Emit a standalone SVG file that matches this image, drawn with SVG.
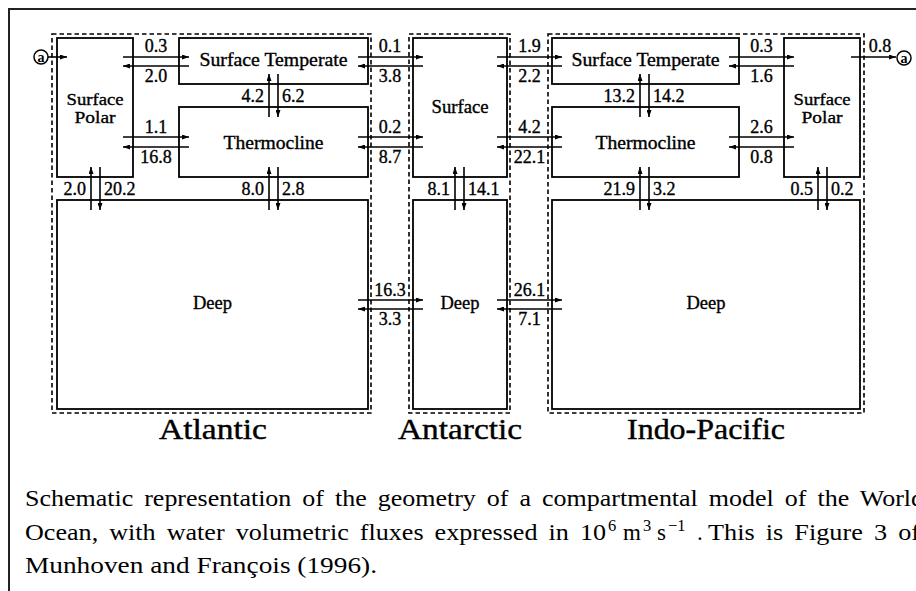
<svg xmlns="http://www.w3.org/2000/svg" width="916" height="591" viewBox="0 0 916 591">
  <defs>
    <marker id="head" viewBox="0 0 7 5" refX="7" refY="2.5" markerWidth="7" markerHeight="5" markerUnits="userSpaceOnUse" orient="auto">
      <path d="M0,0 L7,2.5 L0,5 z" fill="#000"/>
    </marker>
    <style>
      .frame { fill: none; stroke: #222; stroke-width: 2; }
      .basin { fill: none; stroke: #000; stroke-width: 1.6; stroke-dasharray: 4.5 3; }
      .box { fill: #fff; stroke: #000; stroke-width: 1.8; }
      .name { font-family: "Liberation Serif", "Times New Roman", serif; font-size: 18px; fill: #000; stroke: #000; stroke-width: 0.35; text-anchor: middle; }
      .name.small { font-size: 17px; }
      .flow { fill: none; stroke: #000; stroke-width: 1.6; marker-end: url(#head); }
      .num { font-family: "Liberation Serif", "Times New Roman", serif; font-size: 18px; fill: #000; stroke: #000; stroke-width: 0.35; text-anchor: middle; }
      .num.l { text-anchor: end; }
      .num.r { text-anchor: start; }
      .region { font-family: "Liberation Serif", "Times New Roman", serif; font-size: 30px; fill: #000; stroke: #000; stroke-width: 0.4; text-anchor: middle; }
      .tag { fill: #fff; stroke: #000; stroke-width: 1.5; }
      .tagtext { font-family: "Liberation Serif", serif; font-size: 14px; font-weight: bold; fill: #000; text-anchor: middle; }
      .caption { font-family: "Liberation Serif", "Times New Roman", serif; font-size: 23px; fill: #000; word-spacing: 4px; }
      .sup { font-size: 16.5px; }
    </style>
  </defs>

  <!-- outer frame (open to the right and bottom) -->
  <path class="frame" d="M9,591 V9 H916"/>

  <!-- basin outlines -->
  <g id="atlantic">
    <rect class="basin" x="52" y="34" width="319" height="379"/>
    <text class="region" x="213" y="439" textLength="108" lengthAdjust="spacingAndGlyphs">Atlantic</text>
  </g>
  <g id="antarctic">
    <rect class="basin" x="409" y="34" width="101" height="379"/>
    <text class="region" x="460" y="439" textLength="124" lengthAdjust="spacingAndGlyphs">Antarctic</text>
  </g>
  <g id="indo-pacific">
    <rect class="basin" x="548" y="34" width="316" height="379"/>
    <text class="region" x="706" y="439" textLength="158" lengthAdjust="spacingAndGlyphs">Indo-Pacific</text>
  </g>

  <!-- Atlantic reservoirs -->
  <g id="atl-surface-polar">
    <rect class="box" x="57" y="38" width="76" height="139"/>
    <text class="name small" x="95" y="105" textLength="57" lengthAdjust="spacingAndGlyphs">Surface</text>
    <text class="name small" x="95" y="123" textLength="41" lengthAdjust="spacingAndGlyphs">Polar</text>
  </g>
  <g id="atl-surface-temperate">
    <rect class="box" x="179" y="38" width="189" height="46"/>
    <text class="name" x="273.5" y="66" textLength="148" lengthAdjust="spacingAndGlyphs">Surface Temperate</text>
  </g>
  <g id="atl-thermocline">
    <rect class="box" x="179" y="107" width="189" height="70"/>
    <text class="name" x="273.5" y="149" textLength="100" lengthAdjust="spacingAndGlyphs">Thermocline</text>
  </g>
  <g id="atl-deep">
    <rect class="box" x="57" y="200" width="311" height="209"/>
    <text class="name" x="212.5" y="309" textLength="39" lengthAdjust="spacingAndGlyphs">Deep</text>
  </g>

  <!-- Antarctic reservoirs -->
  <g id="ant-surface">
    <rect class="box" x="413" y="38" width="94" height="139"/>
    <text class="name" x="460" y="113" textLength="57" lengthAdjust="spacingAndGlyphs">Surface</text>
  </g>
  <g id="ant-deep">
    <rect class="box" x="413" y="200" width="94" height="209"/>
    <text class="name" x="460" y="309" textLength="39" lengthAdjust="spacingAndGlyphs">Deep</text>
  </g>

  <!-- Indo-Pacific reservoirs -->
  <g id="ind-surface-temperate">
    <rect class="box" x="552" y="38" width="187" height="46"/>
    <text class="name" x="645.5" y="66" textLength="148" lengthAdjust="spacingAndGlyphs">Surface Temperate</text>
  </g>
  <g id="ind-thermocline">
    <rect class="box" x="552" y="107" width="187" height="70"/>
    <text class="name" x="645.5" y="149" textLength="100" lengthAdjust="spacingAndGlyphs">Thermocline</text>
  </g>
  <g id="ind-surface-polar">
    <rect class="box" x="784" y="38" width="76" height="139"/>
    <text class="name small" x="822" y="105" textLength="57" lengthAdjust="spacingAndGlyphs">Surface</text>
    <text class="name small" x="822" y="123" textLength="41" lengthAdjust="spacingAndGlyphs">Polar</text>
  </g>
  <g id="ind-deep">
    <rect class="box" x="552" y="200" width="308" height="209"/>
    <text class="name" x="706" y="309" textLength="39" lengthAdjust="spacingAndGlyphs">Deep</text>
  </g>

  <!-- connection points (a) -->
  <g id="tag-in">
    <circle class="tag" cx="41" cy="57" r="7"/>
    <text class="tagtext" x="41" y="61.5">a</text>
  </g>
  <g id="tag-out">
    <circle class="tag" cx="904" cy="58" r="7"/>
    <text class="tagtext" x="904" y="62.5">a</text>
  </g>

  <!-- water fluxes -->
  <g id="fluxes">
    <!-- inflow / outflow through (a) -->
    <path class="flow" d="M48,57 H67"/>
    <path class="flow" d="M851,57 H896"/>
    <text class="num" x="880" y="52">0.8</text>

    <!-- Atlantic: polar <-> temperate / thermocline -->
    <path class="flow" d="M123,57 H189"/>
    <path class="flow" d="M189,66 H123"/>
    <text class="num" x="156" y="52">0.3</text>
    <text class="num" x="156" y="82">2.0</text>
    <path class="flow" d="M123,137 H189"/>
    <path class="flow" d="M189,147 H123"/>
    <text class="num" x="156" y="133">1.1</text>
    <text class="num" x="156" y="163">16.8</text>

    <!-- Atlantic <-> Antarctic -->
    <path class="flow" d="M358,57 H423"/>
    <path class="flow" d="M423,66 H358"/>
    <text class="num" x="390" y="52">0.1</text>
    <text class="num" x="390" y="82">3.8</text>
    <path class="flow" d="M358,137 H423"/>
    <path class="flow" d="M423,147 H358"/>
    <text class="num" x="390" y="133">0.2</text>
    <text class="num" x="390" y="163">8.7</text>
    <path class="flow" d="M358,300 H423"/>
    <path class="flow" d="M423,309 H358"/>
    <text class="num" x="390" y="296">16.3</text>
    <text class="num" x="390" y="325">3.3</text>

    <!-- Antarctic <-> Indo-Pacific -->
    <path class="flow" d="M497,57 H562"/>
    <path class="flow" d="M562,66 H497"/>
    <text class="num" x="529.5" y="52">1.9</text>
    <text class="num" x="529.5" y="82">2.2</text>
    <path class="flow" d="M497,137 H562"/>
    <path class="flow" d="M562,147 H497"/>
    <text class="num" x="529.5" y="133">4.2</text>
    <text class="num" x="529.5" y="163">22.1</text>
    <path class="flow" d="M497,300 H562"/>
    <path class="flow" d="M562,309 H497"/>
    <text class="num" x="529.5" y="296">26.1</text>
    <text class="num" x="529.5" y="325">7.1</text>

    <!-- Indo-Pacific: temperate / thermocline <-> polar -->
    <path class="flow" d="M729,57 H794"/>
    <path class="flow" d="M794,66 H729"/>
    <text class="num" x="761.5" y="52">0.3</text>
    <text class="num" x="761.5" y="82">1.6</text>
    <path class="flow" d="M729,137 H794"/>
    <path class="flow" d="M794,147 H729"/>
    <text class="num" x="761.5" y="133">2.6</text>
    <text class="num" x="761.5" y="163">0.8</text>

    <!-- vertical exchanges -->
    <path class="flow" d="M91,210 V167"/>
    <path class="flow" d="M100,167 V210"/>
    <text class="num l" x="86" y="195">2.0</text>
    <text class="num r" x="104" y="195">20.2</text>

    <path class="flow" d="M269,117 V74"/>
    <path class="flow" d="M278,74 V117"/>
    <text class="num l" x="264" y="102">4.2</text>
    <text class="num r" x="282" y="102">6.2</text>
    <path class="flow" d="M269,210 V167"/>
    <path class="flow" d="M278,167 V210"/>
    <text class="num l" x="264" y="195">8.0</text>
    <text class="num r" x="282" y="195">2.8</text>

    <path class="flow" d="M455,210 V167"/>
    <path class="flow" d="M464,167 V210"/>
    <text class="num l" x="450" y="195">8.1</text>
    <text class="num r" x="468" y="195">14.1</text>

    <path class="flow" d="M640,117 V74"/>
    <path class="flow" d="M649,74 V117"/>
    <text class="num l" x="635" y="102">13.2</text>
    <text class="num r" x="653" y="102">14.2</text>
    <path class="flow" d="M640,210 V167"/>
    <path class="flow" d="M649,167 V210"/>
    <text class="num l" x="635" y="195">21.9</text>
    <text class="num r" x="653" y="195">3.2</text>

    <path class="flow" d="M818,210 V167"/>
    <path class="flow" d="M827,167 V210"/>
    <text class="num l" x="813" y="195">0.5</text>
    <text class="num r" x="831" y="195">0.2</text>
  </g>

  <!-- caption -->
  <g id="caption" class="caption">
    <text x="25" y="506" textLength="899" lengthAdjust="spacingAndGlyphs">Schematic representation of the geometry of a compartmental model of the World</text>
    <text x="25" y="540" textLength="581" lengthAdjust="spacingAndGlyphs">Ocean, with water volumetric fluxes expressed in 10</text>
    <text class="sup" x="608" y="531">6</text>
    <text x="623" y="540">m</text>
    <text class="sup" x="643" y="531">3</text>
    <text x="657" y="540">s</text>
    <text class="sup" x="668" y="531">−1</text>
    <text x="697" y="540">.</text>
    <text x="708" y="540" textLength="212" lengthAdjust="spacingAndGlyphs">This is Figure 3 of</text>
    <text x="25" y="573" font-size="24" word-spacing="0" textLength="352" lengthAdjust="spacingAndGlyphs">Munhoven and François (1996).</text>
  </g>
</svg>
